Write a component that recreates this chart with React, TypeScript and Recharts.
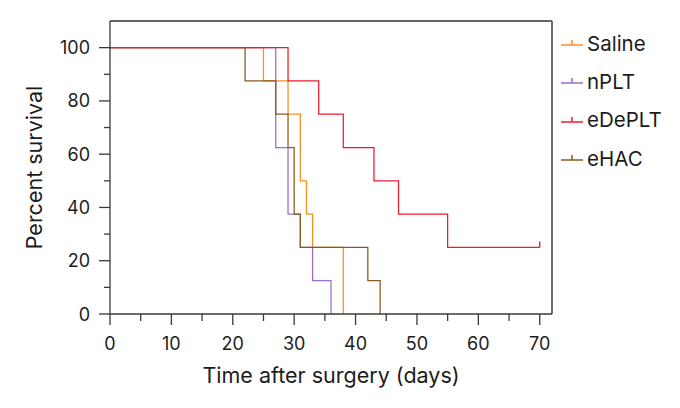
import React from 'react';
import { LineChart, Line, XAxis, YAxis, CartesianGrid, ReferenceLine } from 'recharts';

// Kaplan-Meier steps: [day, percent survival]
const saline = [
  { t: 0, p: 100 }, { t: 25, p: 87.5 }, { t: 29, p: 75 }, { t: 31, p: 50 },
  { t: 32, p: 37.5 }, { t: 33, p: 25 }, { t: 38, p: 0 },
];
const nplt = [
  { t: 0, p: 100 }, { t: 27, p: 62.5 }, { t: 29, p: 37.5 }, { t: 31, p: 25 },
  { t: 33, p: 12.5 }, { t: 36, p: 0 },
];
const edeplt = [
  { t: 0, p: 100 }, { t: 29, p: 87.5 }, { t: 34, p: 75 }, { t: 38, p: 62.5 },
  { t: 43, p: 50 }, { t: 47, p: 37.5 }, { t: 55, p: 25 }, { t: 70, p: 25 },
];
const ehac = [
  { t: 0, p: 100 }, { t: 22, p: 87.5 }, { t: 27, p: 75 }, { t: 29, p: 62.5 },
  { t: 30, p: 37.5 }, { t: 31, p: 25 }, { t: 42, p: 12.5 }, { t: 44, p: 0 },
];

const xTicks = [0, 5, 10, 15, 20, 25, 30, 35, 40, 45, 50, 55, 60, 65, 70];
const yTicks = [0, 10, 20, 30, 40, 50, 60, 70, 80, 90, 100];
const X_MAX = 72;
const Y_MAX = 110;

const SERIES = [
  { name: 'Saline', data: saline, color: '#f7901e' },
  { name: 'nPLT', data: nplt, color: '#9a6bcb' },
  { name: 'eDePLT', data: edeplt, color: '#ec1b2e' },
  { name: 'eHAC', data: ehac, color: '#8a5a1c' },
];

const FONT = 'Inter, "Noto Sans", sans-serif';
const INK = '#1c1c1c';
const AXIS = '#3a3a3a';
const FRAME = '#5a5a5a';

const XTick = (props: any) => {
  const { x, y, payload } = props;
  const major = payload.value % 10 === 0;
  return (
    <g>
      <line x1={x} x2={x} y1={y} y2={y + (major ? 11 : 7)} stroke={AXIS} strokeWidth={1.3} />
      {major && (
        <text x={x} y={y + 36} textAnchor="middle" fontSize={18} fill={INK} fontFamily={FONT}>
          {payload.value}
        </text>
      )}
    </g>
  );
};

const YTick = (props: any) => {
  const { x, y, payload } = props;
  const major = payload.value % 20 === 0;
  return (
    <g>
      <line x1={x - (major ? 11 : 6)} x2={x} y1={y} y2={y} stroke={AXIS} strokeWidth={1.3} />
      {major && (
        <text x={x - 20} y={y + 6.5} textAnchor="end" fontSize={18} fill={INK} fontFamily={FONT}>
          {payload.value}
        </text>
      )}
    </g>
  );
};

const censorDot = (color: string, last: number) => (props: any) => {
  const { cx, cy, index } = props;
  if (index !== last) return <g key={`d-${index}`} />;
  return <line key={`d-${index}`} x1={cx} x2={cx} y1={cy} y2={cy - 6} stroke={color} strokeWidth={1.4} />;
};

const ChartLegend = () => (
  <div style={{ position: 'absolute', left: 559, top: 24, fontFamily: FONT, fontSize: 20.5, color: INK }}>
    {SERIES.map((s) => (
      <div key={s.name} style={{ display: 'flex', alignItems: 'center', height: 38.3 }}>
        <svg width={26} height={14} style={{ marginRight: 2 }}>
          <line x1={2} x2={24} y1={9} y2={9} stroke={s.color} strokeWidth={1.5} />
          <line x1={13} x2={13} y1={9} y2={4} stroke={s.color} strokeWidth={1.5} />
        </svg>
        <span>{s.name}</span>
      </div>
    ))}
  </div>
);

export default function App() {
  return (
    <div style={{ position: 'absolute', left: 0, top: 0, width: 680, height: 408, background: '#fff' }}>
      <LineChart width={680} height={408} margin={{ top: 21, right: 128, left: 0, bottom: 0 }}>
        {/* top and right sides of the frame */}
        <CartesianGrid
          horizontalValues={[Y_MAX]}
          verticalValues={[X_MAX]}
          stroke={FRAME}
          strokeWidth={1.3}
        />
        <XAxis
          dataKey="t"
          type="number"
          domain={[0, X_MAX]}
          ticks={xTicks}
          interval={0}
          tickSize={0}
          tickMargin={0}
          tickLine={false}
          tick={<XTick />}
          height={94}
          axisLine={{ stroke: AXIS, strokeWidth: 1.3 }}
          label={{ value: 'Time after surgery (days)', position: 'insideBottom', offset: 25, fontSize: 21.5, fill: INK, fontFamily: FONT }}
        />
        <YAxis
          type="number"
          domain={[0, Y_MAX]}
          ticks={yTicks}
          interval={0}
          tickSize={0}
          tickMargin={0}
          tickLine={false}
          tick={<YTick />}
          width={110}
          axisLine={{ stroke: AXIS, strokeWidth: 1.3 }}
          label={{ value: 'Percent survival', angle: -90, position: 'insideLeft', offset: 34, fontSize: 21.5, fill: INK, fontFamily: FONT, style: { textAnchor: 'middle' } }}
        />
        <ReferenceLine y={Y_MAX} stroke={FRAME} strokeWidth={1.3} />
        <ReferenceLine x={X_MAX} stroke={FRAME} strokeWidth={1.3} />
        {SERIES.map((s) => (
          <Line
            key={s.name}
            name={s.name}
            data={s.data}
            dataKey="p"
            type="stepAfter"
            stroke={s.color}
            strokeWidth={1.25}
            dot={s.name === 'eDePLT' ? censorDot(s.color, s.data.length - 1) : false}
            activeDot={false}
            isAnimationActive={false}
          />
        ))}
      </LineChart>
      <ChartLegend />
    </div>
  );
}
